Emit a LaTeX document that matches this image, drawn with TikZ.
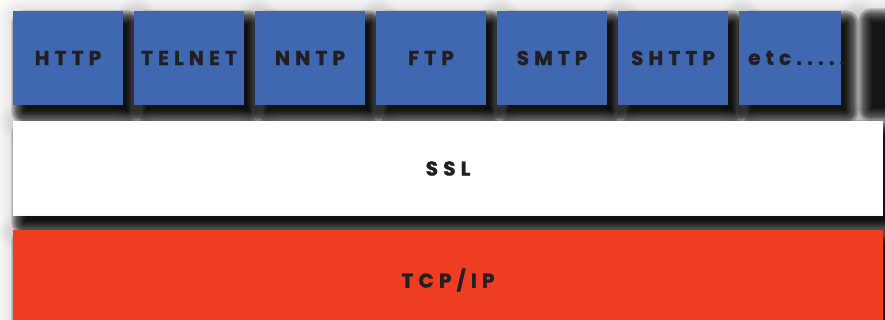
\documentclass[tikz,border=0pt]{standalone}
\usepackage{fontspec}
\setmainfont{Poppins}
\newfontfamily\layerfont{Poppins}[LetterSpace=26, BoldFeatures={FakeBold=1.4}]

\definecolor{protoblue}{RGB}{63,104,176}
\definecolor{tcpred}{RGB}{239,61,35}
\definecolor{labelink}{RGB}{35,31,32}

% soft drop shadow of the rectangle (#1,#2)--(#3,#4), built from stacked
% translucent rectangles that grow outwards
\newcommand\castshadow[4]{%
  \foreach \k in {0,...,15}{%
    \pgfmathsetmacro\grow{-5+\k}%
    \pgfmathsetmacro\rnd{max(0.1,\grow+3)}%
    \fill[black, fill opacity=0.12, rounded corners=\rnd pt]
      ({#1+8-\grow},{#2+9-\grow}) rectangle ({#3+8+\grow},{#4+9+\grow});
  }%
  \foreach \k in {1,...,8}{%
    \pgfmathsetmacro\grow{10+2*\k}%
    \fill[black, fill opacity=0.012, rounded corners=\grow pt]
      ({#1+8-\grow},{#2+9-\grow}) rectangle ({#3+8+\grow},{#4+9+\grow});
  }%
}

\tikzset{
  layer/.style={rectangle, inner sep=0pt, outer sep=0pt, anchor=north west,
      text=labelink, font=\layerfont\bfseries\fontsize{20}{22}\selectfont},
  protobox/.style={layer, fill=protoblue, minimum width=110pt, minimum height=94pt},
  bandbox/.style={layer, minimum width=870pt},
  labeltext/.style={inner sep=0pt, text=labelink,
      font=\layerfont\bfseries\fontsize{20}{22}\selectfont},
}

\begin{document}
\begin{tikzpicture}[x=1pt, y=-1pt]
  \useasboundingbox (0,0) rectangle (885,320);
  \fill[white] (0,0) rectangle (885,320);

  % application protocols
  \castshadow{13}{11}{123}{105}
  \castshadow{134}{11}{244}{105}
  \castshadow{255}{11}{365}{105}
  \castshadow{376}{11}{486}{105}
  \castshadow{497}{11}{607}{105}
  \castshadow{618}{11}{728}{105}
  \castshadow{739}{11}{841}{105}
  \castshadow{860}{9}{990}{103}
  \node[protobox] (http)   at (13,11)  {HTTP};
  \node[protobox] (telnet) at (134,11) {TELNET};
  \node[protobox] (nntp)   at (255,11) {NNTP};
  \node[protobox] (ftp)    at (376,11) {FTP};
  \node[protobox] (smtp)   at (497,11) {SMTP};
  \node[protobox] (shttp)  at (618,11) {SHTTP};
  \node[protobox, minimum width=102pt] (etc) at (739,11) {};
  \node[labeltext, anchor=west] (etclabel) at (748,58) {etc.....};

  % security layer
  \castshadow{13}{121}{883}{216}
  \node[bandbox, fill=white, minimum height=95pt] (ssl) at (13,121) {SSL};

  % transport layer
  \castshadow{13}{230}{883}{330}
  \node[bandbox, fill=tcpred, minimum height=100pt] (tcpip) at (13,230) {TCP/IP};
\end{tikzpicture}
\end{document}
